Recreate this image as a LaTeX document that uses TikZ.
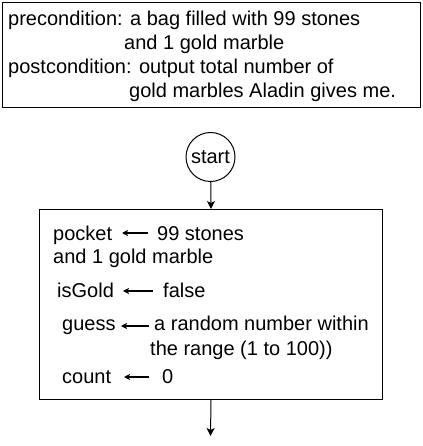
\documentclass[tikz,border=0pt]{standalone}
\usepackage{fontspec}
\setmainfont{Liberation Sans}
\usetikzlibrary{arrows.meta}
\begin{document}
\begin{tikzpicture}[x=1pt,y=-1pt,
  txt/.style={inner sep=0pt, anchor=base west, font=\fontsize{20}{24}\selectfont},
  box/.style={draw, line width=1pt, inner sep=0pt},
  arr/.style={-{Stealth[length=8pt,width=8pt,inset=2pt]}, line width=1pt},
  sarr/.style={-{Stealth[length=6pt,width=6pt,inset=1.5pt]}, line width=1.2pt}]
\useasboundingbox (0,0) rectangle (422,446);
% precondition box
\node[box, anchor=north west, minimum width=418pt, minimum height=105pt] (pre) at (2,2) {};
\node[txt] (t1) at (8,26) {precondition: a bag filled with 99 stones};
\node[txt] (t2) at (124,50) {and 1 gold marble};
\node[txt] (t3) at (8,74) {postcondition: output total number of};
\node[txt] (t4) at (129,98) {gold marbles Aladin gives me.};
% start
\node[box, circle, minimum size=49pt, font=\fontsize{20}{24}\selectfont] (start) at (210.5,157) {start};
% init box
\node[box, anchor=north west, minimum width=343pt, minimum height=190pt] (init) at (39,209) {};
\draw[arr] (start) -- (init.north);
\coordinate (end) at (210.5,436);
\draw[arr] (init.south) -- (end);
% contents
\node[txt] (pocket) at (53,240) {pocket};
\node[txt] (stones) at (157,240) {99 stones};
\node[txt] (and) at (53,263) {and 1 gold marble};
\node[txt] (isgold) at (57,297) {isGold};
\node[txt] (false) at (163,297) {false};
\node[txt] (guess) at (62,330) {guess};
\node[txt] (rand1) at (154,330) {a random number within};
\node[txt] (rand2) at (150,355) {the range (1 to 100))};
\node[txt] (count) at (62,383) {count};
\node[txt] (zero) at (162,383) {0};
\coordinate (a1s) at (148,233); \coordinate (a1e) at (122,233);
\coordinate (a2s) at (153,291); \coordinate (a2e) at (123,291);
\coordinate (a3s) at (149,326); \coordinate (a3e) at (121,326);
\coordinate (a4s) at (149,377); \coordinate (a4e) at (124,377);
\draw[sarr] (a1s) -- (a1e);
\draw[sarr] (a2s) -- (a2e);
\draw[sarr] (a3s) -- (a3e);
\draw[sarr] (a4s) -- (a4e);
\end{tikzpicture}
\end{document}
